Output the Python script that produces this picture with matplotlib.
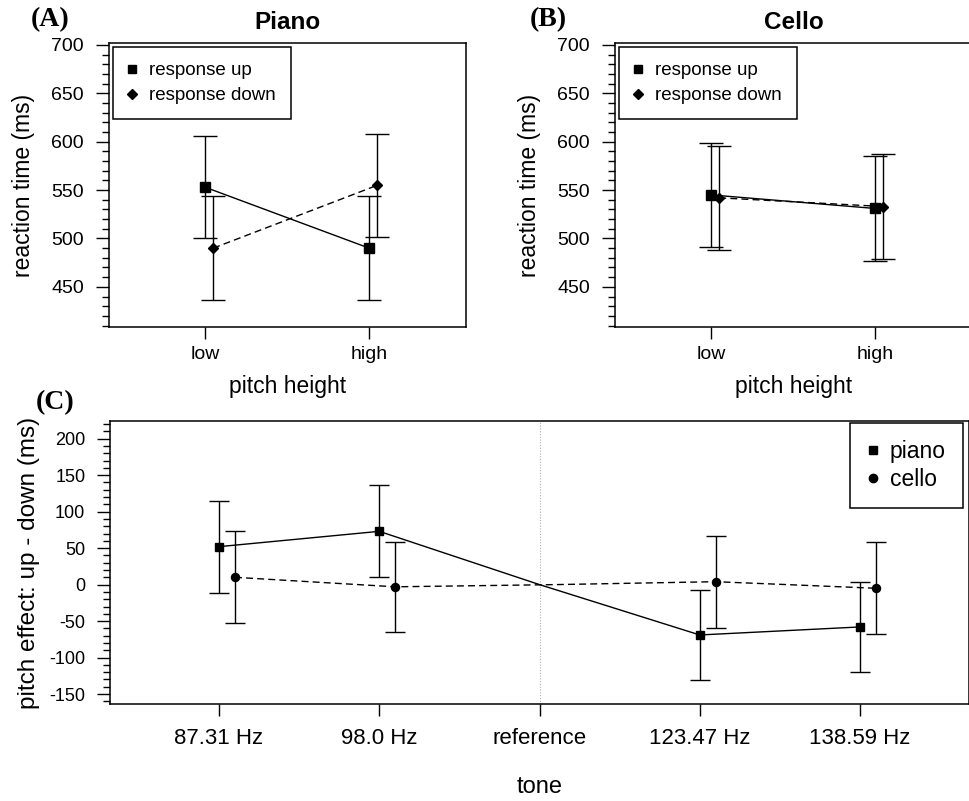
import matplotlib
matplotlib.use("Agg")
import matplotlib.pyplot as plt
from matplotlib.lines import Line2D
from matplotlib.ticker import MultipleLocator

plt.rcParams['font.family'] = ['Liberation Sans', 'DejaVu Sans']
plt.rcParams['axes.unicode_minus'] = False

# panel A / B data (reaction time, ms)
pitch = ["low", "high"]
piano_up = [553, 490]
piano_up_err = [53, 54]
piano_down = [490, 555]
piano_down_err = [54, 53]
cello_up = [545, 531]
cello_up_err = [54, 54]
cello_down = [542, 533]
cello_down_err = [54, 54]

# panel C data (pitch effect, ms)
tones = ["87.31 Hz", "98.0 Hz", "reference", "123.47 Hz", "138.59 Hz"]
piano_effect = [52, 73, 0, -69, -58]
piano_effect_err = [63, 63, 0, 62, 62]
cello_effect = [10, -3, 0, 4, -5]
cello_effect_err = [63, 62, 0, 63, 63]

W, H = 970, 801
DASH = (0, (5, 3))


def style_axes(ax, ylo, yhi, xlo, xhi, ytick_size, xtick_size, ypad, xpad):
    ax.set_ylim(ylo, yhi)
    ax.set_xlim(xlo, xhi)
    ax.yaxis.set_major_locator(MultipleLocator(50))
    ax.yaxis.set_minor_locator(MultipleLocator(10))
    ax.tick_params(axis='y', which='major', length=9.4, width=1, pad=ypad, labelsize=ytick_size)
    ax.tick_params(axis='y', which='minor', length=5.2, width=1)
    ax.tick_params(axis='x', which='major', length=8.6, width=1, pad=xpad, labelsize=xtick_size)
    for s in ax.spines.values():
        s.set_linewidth(1.1)


def rt_panel(ax, up, up_err, down, down_err, title):
    x = [1, 2]
    xd = [1.05, 2.05]
    ax.errorbar(x, up, yerr=up_err, color='k', marker='s', ms=6.7, lw=1,
                capsize=8.3, elinewidth=1, capthick=1)
    ax.errorbar(xd, down, yerr=down_err, color='k', marker='D', ms=5.5, lw=1, ls=DASH,
                capsize=8.3, elinewidth=1, capthick=1)
    style_axes(ax, 408.5, 702, 0.415, 2.59, 14, 14, 8.6, 5.3)
    ax.set_xticks(x)
    ax.set_xticklabels(pitch)
    ax.set_xlabel("pitch height", fontsize=16.5)
    ax.xaxis.set_label_coords(0.5, -0.17)
    ax.set_ylabel("reaction time (ms)", fontsize=16.5)
    ax.yaxis.set_label_coords(-0.207, 0.5)
    ax.set_title(title, fontweight='bold', fontsize=17.5, pad=10)
    handles = [Line2D([], [], color='k', marker='s', ls='none', ms=6),
               Line2D([], [], color='k', marker='D', ls='none', ms=4.8)]
    leg = ax.legend(handles, ["response up", "response down"], loc='upper left',
                    bbox_to_anchor=(0.0104, 0.986), borderaxespad=0, fontsize=13.5,
                    frameon=True, fancybox=False, framealpha=1, edgecolor='k',
                    borderpad=0.8, handlelength=0.45, handletextpad=0.7, labelspacing=0.42)
    leg.get_frame().set_linewidth(1.1)


fig = plt.figure(figsize=(W / 100, H / 100), dpi=100)
axA = fig.add_axes([109 / W, 1 - 327 / H, 357 / W, 284 / H])
axB = fig.add_axes([615 / W, 1 - 327 / H, 357 / W, 284 / H])
axC = fig.add_axes([110 / W, 1 - 704 / H, 859 / W, 283 / H])

rt_panel(axA, piano_up, piano_up_err, piano_down, piano_down_err, "Piano")
rt_panel(axB, cello_up, cello_up_err, cello_down, cello_down_err, "Cello")

# panel C
xc = [1, 2, 3, 4, 5]
xc2 = [1.1, 2.1, 3.1, 4.1, 5.1]
keep = [0, 1, 3, 4]
axC.axvline(3, color='#b0b0b0', lw=0.8, ls=(0, (1, 1.5)), zorder=0)
axC.plot(xc, piano_effect, color='k', lw=1)
axC.plot(xc2, cello_effect, color='k', lw=1, ls=DASH)
axC.errorbar([xc[i] for i in keep], [piano_effect[i] for i in keep],
             yerr=[piano_effect_err[i] for i in keep], fmt='s', color='k', ms=6,
             capsize=7.2, elinewidth=1, capthick=1)
axC.errorbar([xc2[i] for i in keep], [cello_effect[i] for i in keep],
             yerr=[cello_effect_err[i] for i in keep], fmt='o', color='k', ms=5.8,
             capsize=7.2, elinewidth=1, capthick=1)
style_axes(axC, -163.6, 224.2, 0.32, 5.68, 13, 16, 8.4, 9.0)
axC.set_xticks(xc)
axC.set_xticklabels(tones)
axC.set_xlabel("tone", fontsize=17)
axC.xaxis.set_label_coords(0.5, -0.255)
axC.set_ylabel("pitch effect: up - down (ms)", fontsize=17.5)
axC.yaxis.set_label_coords(-0.0815, 0.5)
hC = [Line2D([], [], color='k', marker='s', ls='none', ms=6),
      Line2D([], [], color='k', marker='o', ls='none', ms=6)]
legC = axC.legend(hC, ["piano", "cello"], loc='upper right', bbox_to_anchor=(0.993, 0.994),
                  borderaxespad=0, fontsize=16.5, frameon=True, fancybox=False, framealpha=1,
                  edgecolor='k', borderpad=0.75, handlelength=0.5, handletextpad=0.5,
                  labelspacing=0.22)
legC.get_frame().set_linewidth(1.1)

for lab, x, y in [("(A)", 50, 20), ("(B)", 548, 20), ("(C)", 55, 403)]:
    fig.text(x / W, 1 - y / H, lab, ha='center', va='center', fontsize=20,
             fontweight='bold', family=['Liberation Serif', 'DejaVu Serif'])

fig.savefig("out.png", dpi=100)
